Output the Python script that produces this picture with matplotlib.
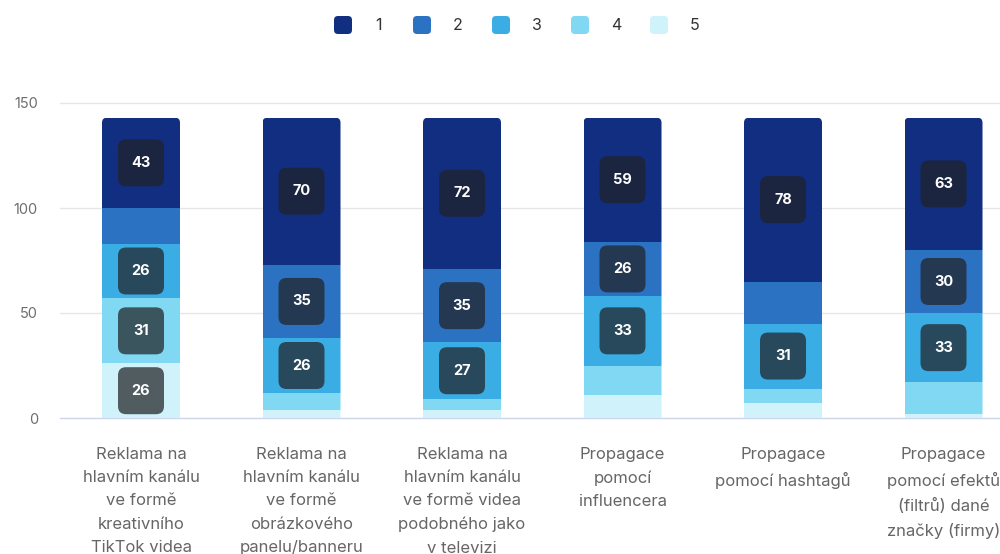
import matplotlib
matplotlib.use("Agg")
import matplotlib.pyplot as plt
import numpy as np
from matplotlib.patches import FancyBboxPatch
from matplotlib.transforms import ScaledTranslation

plt.rcParams["font.family"] = ["Inter", "DejaVu Sans"]

categories = [
    "Reklama na\nhlavním kanálu\nve formě\nkreativního\nTikTok videa",
    "Reklama na\nhlavním kanálu\nve formě\nobrázkového\npanelu/banneru",
    "Reklama na\nhlavním kanálu\nve formě videa\npodobného jako\nv televizi",
    "Propagace\npomocí\ninfluencera",
    "Propagace\npomocí hashtagů",
    "Propagace\npomocí efektů\n(filtrů) dané\nznačky (firmy)",
]
series_names = ["1", "2", "3", "4", "5"]
# stacked from the bottom: 5, 4, 3, 2, 1
s5 = [26, 4, 4, 11, 7, 2]
s4 = [31, 8, 5, 14, 7, 15]
s3 = [26, 26, 27, 33, 31, 33]
s2 = [17, 35, 35, 26, 20, 30]
s1 = [43, 70, 72, 59, 78, 63]
colors = ["#112e81", "#2c72c2", "#3aaee4", "#80d8f2", "#cff2fb"]
y_ticks = [0, 50, 100, 150]
label_min = 22

fig = plt.figure(figsize=(10, 5.54), dpi=100)
ax = fig.add_axes([0.06, 1 - 418 / 554, 0.94, 315 / 554])
ax.set_xlim(-0.5047, 5.352)
ax.set_ylim(0, 150)

x = np.arange(len(categories))
width = 0.486
stack = [(s5, colors[4]), (s4, colors[3]), (s3, colors[2]), (s2, colors[1]), (s1, colors[0])]
totals = np.sum([s for s, _ in stack], axis=0)

# rounded tops: clip each column with a rounded box (aspect = y units per x unit)
aspect = (940 / 5.8567) / (315 / 150)
clips = []
for xi, tot in zip(x, totals):
    clip = FancyBboxPatch((xi - width / 2, -20), width, tot + 20,
                          boxstyle="round,pad=0,rounding_size=0.031",
                          mutation_aspect=aspect, transform=ax.transData,
                          facecolor="none", edgecolor="none")
    ax.add_patch(clip)
    clips.append(clip)

bottom = np.zeros(len(categories))
box_tf = fig.dpi_scale_trans
for vals, col in stack:
    bars = ax.bar(x, vals, width, bottom=bottom, color=col, linewidth=0, zorder=2)
    for rect, clip in zip(bars, clips):
        rect.set_clip_path(clip)
    for xi, b, v in zip(x, bottom, vals):
        if v < label_min:
            continue
        yc = b + v / 2
        tf = box_tf + ScaledTranslation(xi, yc, ax.transData)
        ax.add_patch(FancyBboxPatch((-0.23, -0.235), 0.46, 0.47,
                                    boxstyle="round,pad=0,rounding_size=0.08",
                                    transform=tf, facecolor="#212226", alpha=0.72,
                                    edgecolor="none", zorder=3))
        ax.text(xi, yc, str(v), ha="center", va="center", color="white",
                fontsize=10.5, fontweight="bold", zorder=4)
    bottom = bottom + np.array(vals)

# grid and baseline
for yt in y_ticks[1:]:
    ax.axhline(yt, color="#e6e6e6", lw=1, zorder=0, clip_on=False)
ax.axhline(0, color="#ccd6eb", lw=1, zorder=1, clip_on=False)

for sp in ax.spines.values():
    sp.set_visible(False)
ax.set_yticks(y_ticks)
ax.set_yticklabels([str(t) for t in y_ticks])
ax.tick_params(axis="y", length=0, pad=16, labelsize=10.5, labelcolor="#6e6e6e")
ax.set_xticks(x)
ax.set_xticklabels(categories, linespacing=1.68)
ax.tick_params(axis="x", length=0, pad=21, labelsize=12, labelcolor="#666666")

# legend across the top
for i, name in enumerate(series_names):
    cx = 343 + 79 * i
    fig.patches.append(FancyBboxPatch(((cx - 9) / 1000, 1 - 34 / 554), 18 / 1000, 18 / 554,
                                      boxstyle="round,pad=0,rounding_size=0.004",
                                      mutation_aspect=1000 / 554,
                                      transform=fig.transFigure, facecolor=colors[i],
                                      edgecolor="none"))
    fig.text((cx + 36) / 1000, 1 - 25 / 554, name, ha="center", va="center",
             fontsize=11.5, color="#333333")

fig.savefig("out.png", dpi=100, facecolor="white")
